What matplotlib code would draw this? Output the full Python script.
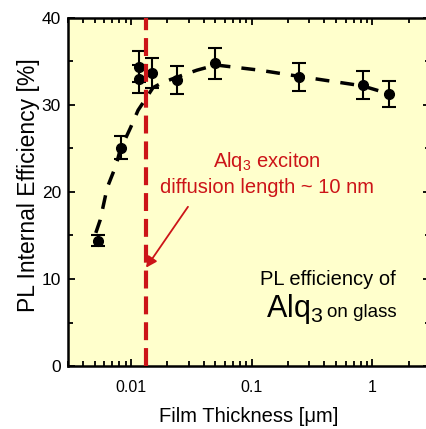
import matplotlib
matplotlib.use('Agg')
import matplotlib.pyplot as plt
from matplotlib.ticker import MultipleLocator, FixedLocator, FixedFormatter, LogLocator, NullFormatter

# Datos
thickness = [0.0053, 0.0083, 0.0117, 0.0117, 0.0149, 0.024, 0.050, 0.244, 0.84, 1.36]
efficiency = [14.4, 25.1, 34.4, 33.0, 33.7, 32.9, 34.8, 33.2, 32.3, 31.3]
eff_err = [0.6, 1.3, 1.8, 1.6, 1.7, 1.6, 1.8, 1.6, 1.6, 1.5]

# curva de ajuste (tracejada)
fit_x = [0.0051, 0.00555, 0.00634, 0.00752, 0.0081, 0.0099, 0.01143, 0.01305, 0.0152,
         0.01837, 0.024, 0.0351, 0.0504, 0.1164, 0.244, 0.826, 1.36]
fit_y = [15.3, 16.8, 20.5, 23.1, 24.8, 27.4, 29.4, 30.6, 32.0,
         32.6, 33.2, 34.0, 34.6, 34.0, 33.3, 32.2, 31.3]

diff_length = 0.0133   # linha vermelha

x_ticks = [0.01, 0.1, 1]
x_ticklabels = ['0.01', '0.1', '1']
y_ticks = [0, 10, 20, 30, 40]

RED = '#cc1418'
sans = ['Liberation Sans', 'DejaVu Sans']

fig = plt.figure(figsize=(4.27, 4.29), dpi=100)
ax = fig.add_axes([68 / 427, 63 / 429, 362 / 427, 348 / 429])
ax.set_facecolor('#ffffcc')

ax.plot(fit_x, fit_y, color='black', lw=2.5, dashes=(4, 3.2), zorder=2)
ax.errorbar(thickness, efficiency, yerr=eff_err, fmt='o', color='black',
            markersize=7, elinewidth=1.5, capsize=4.7, capthick=1.5, zorder=3)
ax.axvline(diff_length, color=RED, lw=3, dashes=(4.3, 1.9), zorder=4)

ax.set_xscale('log')
ax.set_xlim(0.003, 3)
ax.set_ylim(0, 40)

ax.xaxis.set_major_locator(FixedLocator(x_ticks))
ax.xaxis.set_major_formatter(FixedFormatter(x_ticklabels))
ax.xaxis.set_minor_locator(LogLocator(base=10, subs=range(2, 10), numticks=20))
ax.xaxis.set_minor_formatter(NullFormatter())
ax.yaxis.set_major_locator(FixedLocator(y_ticks))
ax.yaxis.set_minor_locator(MultipleLocator(5))

ax.tick_params(which='both', direction='in', top=True, right=True, width=1.3, colors='black')
ax.tick_params(which='major', length=5)
ax.tick_params(which='minor', length=3.5)
ax.tick_params(axis='x', which='major', pad=10)
ax.tick_params(axis='y', which='major', pad=5)
for lab in ax.get_xticklabels():
    lab.set_family(sans)
    lab.set_fontsize(11.5)
for lab in ax.get_yticklabels():
    lab.set_family(sans)
    lab.set_fontsize(12.5)

for sp in ax.spines.values():
    sp.set_linewidth(1.8)

ax.set_xlabel('Film Thickness [\u03bcm]', family=sans, fontsize=14.5, labelpad=9)
ax.set_ylabel('PL Internal Efficiency [%]', family=sans, fontsize=16.5)
ax.yaxis.set_label_coords(-0.078, 0.52)

# textos
ax.text(0.55, 22.9, r'Alq$_\mathregular{3}$ exciton', transform=ax.get_yaxis_transform(),
        ha='center', va='baseline', color=RED, family=sans, fontsize=14.5)
ax.text(0.55, 19.9, 'diffusion length ~ 10 nm', transform=ax.get_yaxis_transform(),
        ha='center', va='baseline', color=RED, family=sans, fontsize=14.5)
ax.annotate('', xy=(diff_length, 11.3), xytext=(0.0296, 18.3),
            arrowprops=dict(arrowstyle='-|>', color=RED, lw=1.3, mutation_scale=16,
                            shrinkA=0, shrinkB=0), zorder=5)

ax.text(0.718, 9.3, 'PL efficiency of', transform=ax.get_yaxis_transform(),
        ha='center', va='baseline', color='black', family=sans, fontsize=14.5)
ax.text(0.547, 5.6, r'Alq$_\mathregular{3}$', transform=ax.get_yaxis_transform(),
        ha='left', va='baseline', color='black', family=sans, fontsize=22)
ax.text(0.909, 5.6, 'on glass', transform=ax.get_yaxis_transform(),
        ha='right', va='baseline', color='black', family=sans, fontsize=13.5)

fig.savefig('out.png', dpi=100)
